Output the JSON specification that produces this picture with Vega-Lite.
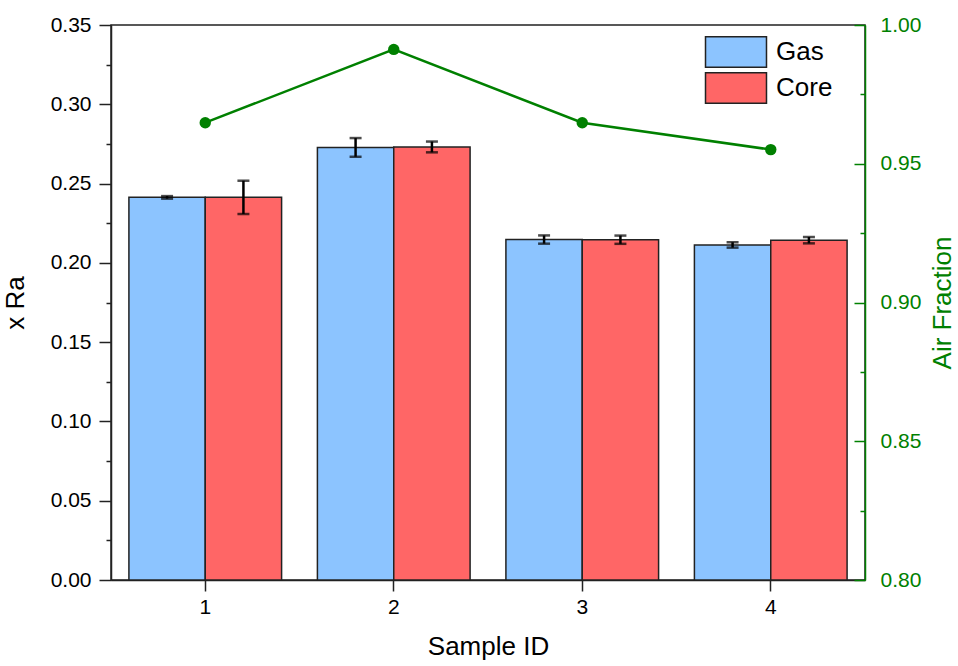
{
  "$schema": "https://vega.github.io/schema/vega-lite/v6.json",
  "width": 754,
  "height": 555,
  "autosize": "none",
  "padding": {"left": 111, "top": 25, "right": 93, "bottom": 86},
  "background": "white",
  "config": {
    "font": "Liberation Sans",
    "view": {"stroke": "#222222", "strokeWidth": 1.5},
    "axis": {"grid": false, "labelFontSize": 21, "titleFontSize": 26, "titleFontWeight": "normal", "labelColor": "black", "titleColor": "black", "domainWidth": 1.5, "tickWidth": 1.5}
  },
  "datasets": {
    "ra": [
      {"sample": "1", "type": "Gas", "value": 0.2413, "err": 0.0008},
      {"sample": "1", "type": "Core", "value": 0.2413, "err": 0.0105},
      {"sample": "2", "type": "Gas", "value": 0.2728, "err": 0.0059},
      {"sample": "2", "type": "Core", "value": 0.2731, "err": 0.0034},
      {"sample": "3", "type": "Gas", "value": 0.2147, "err": 0.0026},
      {"sample": "3", "type": "Core", "value": 0.2146, "err": 0.0026},
      {"sample": "4", "type": "Gas", "value": 0.2113, "err": 0.0017},
      {"sample": "4", "type": "Core", "value": 0.2143, "err": 0.0020}
    ],
    "air": [
      {"sample": "1", "air": 0.9648},
      {"sample": "2", "air": 0.9912},
      {"sample": "3", "air": 0.9648},
      {"sample": "4", "air": 0.9551}
    ]
  },
  "layer": [
    {
      "data": {"name": "ra"},
      "encoding": {
        "x": {
          "field": "sample", "type": "nominal",
          "scale": {"paddingInner": 0.19, "paddingOuter": 0.095},
          "axis": {"title": "Sample ID", "labelAngle": 0, "tickSize": 11, "labelPadding": 5, "titlePadding": 16, "domainColor": "#222222", "tickColor": "#222222"}
        },
        "xOffset": {"field": "type", "type": "nominal", "scale": {"domain": ["Gas", "Core"], "paddingInner": 0, "paddingOuter": 0}},
        "y": {
          "field": "value", "type": "quantitative",
          "scale": {"domain": [0, 0.35], "nice": false, "zero": true},
          "axis": {
            "title": "x Ra",
            "values": [0, 0.025, 0.05, 0.075, 0.1, 0.125, 0.15, 0.175, 0.2, 0.225, 0.25, 0.275, 0.3, 0.325, 0.35],
            "labelExpr": "round(datum.value*1000) % 50 === 0 ? format(datum.value, '.2f') : ''",
            "tickSize": {"condition": {"test": "round(datum.value*1000) % 50 === 0", "value": 12}, "value": 5},
            "labelPadding": 8,
            "titlePadding": 22,
            "domainColor": "#222222",
            "tickColor": "#222222"
          }
        }
      },
      "layer": [
        {
          "mark": {"type": "bar", "stroke": "#222222", "strokeWidth": 1.5},
          "encoding": {
            "color": {
              "field": "type", "type": "nominal",
              "scale": {"domain": ["Gas", "Core"], "range": ["#8CC4FF", "#FF6666"]},
              "legend": {
                "orient": "none", "legendX": 609, "legendY": 11, "title": null,
                "symbolType": "M-2,-1H2V1H-2Z", "symbolSize": 930,
                "symbolStrokeColor": "#222222", "symbolStrokeWidth": 1.5, "symbolOpacity": 1,
                "labelFontSize": 26, "labelColor": "black", "rowPadding": -2, "labelOffset": 24
              }
            }
          }
        },
        {
          "mark": {"type": "errorbar", "ticks": {"size": 12, "thickness": 2.5, "color": "black"}, "rule": {"strokeWidth": 2.5, "color": "black"}},
          "encoding": {"yError": {"field": "err"}}
        }
      ]
    },
    {
      "data": {"name": "air"},
      "encoding": {
        "x": {"field": "sample", "type": "nominal"},
        "y": {
          "field": "air", "type": "quantitative",
          "scale": {"domain": [0.8, 1.0], "nice": false, "zero": false},
          "axis": {
            "orient": "right",
            "title": "Air Fraction",
            "titleAngle": 270,
            "values": [0.8, 0.825, 0.85, 0.875, 0.9, 0.925, 0.95, 0.975, 1.0],
            "labelExpr": "round(datum.value*1000) % 50 === 0 ? format(datum.value, '.2f') : ''",
            "tickSize": {"condition": {"test": "round(datum.value*1000) % 50 === 0", "value": -11}, "value": -5},
            "labelPadding": 26,
            "titlePadding": 35,
            "domainColor": "#008000",
            "tickColor": "#008000",
            "labelColor": "#008000",
            "titleColor": "#008000"
          }
        }
      },
      "layer": [
        {"mark": {"type": "line", "color": "#008000", "strokeWidth": 2.5}},
        {"mark": {"type": "point", "filled": true, "color": "#008000", "size": 130, "opacity": 1}}
      ]
    }
  ],
  "resolve": {"scale": {"y": "independent"}}
}
